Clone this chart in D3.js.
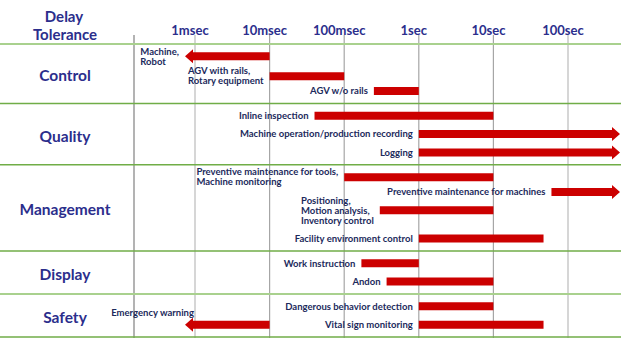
<!DOCTYPE html>
<html>
<head>
<meta charset="utf-8">
<script src="https://cdn.jsdelivr.net/npm/d3@7"></script>
<style>
  html, body { margin: 0; padding: 0; background: #fff; }
  svg { display: block; font-family: Lato, "Open Sans", sans-serif; font-weight: bold; }
</style>
</head>
<body>
<svg id="chart" width="621" height="338"></svg>
<script>
// ---- data -----------------------------------------------------------
const categories = ["Control", "Quality", "Management", "Display", "Safety"];
const tickValues = [0.001, 0.01, 0.1, 1, 10, 100];
const tickLabels = ["1msec", "10msec", "100msec", "1sec", "10sec", "100sec"];

const itemLabels = [
  ["Machine,", "Robot"],
  ["AGV with rails,", "Rotary equipment"],
  ["AGV w/o rails"],
  ["Inline inspection"],
  ["Machine operation/production recording"],
  ["Logging"],
  ["Preventive maintenance for tools,", "Machine monitoring"],
  ["Preventive maintenance for machines"],
  ["Positioning,", "Motion analysis,", "Inventory control"],
  ["Facility environment control"],
  ["Work instruction"],
  ["Andon"],
  ["Dangerous behavior detection"],
  ["Emergency warning"],
  ["Vital sign monitoring"]
];
const itemCategory = [0, 0, 0, 1, 1, 1, 2, 2, 2, 2, 3, 3, 4, 4, 4];
const itemLane     = [0, 1, 2, 0, 1, 2, 0, 1, 2, 3, 0, 1, 0, 1, 1];
// tolerable delay range in seconds (null = open-ended, drawn as an arrow)
const itemMin = [null, 0.01, 0.25, 0.04, 1, 1, 0.1, 60, 0.3, 1, 0.17, 0.37, 1, null, 1];
const itemMax = [0.01, 0.1, 1, 10, null, null, 10, null, 10, 47, 1, 10, 10, 0.01, 47];

// ---- layout constants -----------------------------------------------
const W = 621, H = 338;
const plotLeft = 134, plotRight = W;
const headerY = 44, bottomY = 337, gridTop = 35;

const navy = "#2b2e8c", labelInk = "#1c2a5c", red = "#cc0000";
const green = "#70ad47", paleGreen = "#a9d18e";

const labelSize = 9.5, lineH = 10;
const barH = 8, headH = 14, headL = 8, openReach = 10, gap = 6, lift = 12;
const barGap = 6, textGap = 8.5, groupPad = 12.5;

const svg = d3.select("#chart");

const x = d3.scaleLog().domain([1e-3, 1e2]).range([195, 568]);

// ---- horizontal placement of bars and their labels -------------------
const probe = svg.append("text").attr("font-size", labelSize).attr("visibility", "hidden");
const labelWidth = itemLabels.map(lines =>
  d3.max(lines, s => { probe.text(s); return probe.node().getComputedTextLength(); }));
probe.remove();

const items = itemLabels.map((lab, i) => {
  const x1 = itemMin[i] == null ? x(tickValues[0]) - openReach : x(itemMin[i]);
  const x2 = itemMax[i] == null ? plotRight - 1 : x(itemMax[i]);
  let lx = x1 - gap - labelWidth[i], off = 0;
  if (lx < plotLeft + 2) {
    // no room before the bar: lift the label above it
    lx = x1 + headL + 1 - labelWidth[i];
    off = -lift;
  }
  return {
    lab, x1, x2, lx, lw: labelWidth[i], off,
    cat: itemCategory[i], lane: itemLane[i],
    openLeft: itemMin[i] == null, openRight: itemMax[i] == null
  };
});

// boxes each item occupies, relative to its lane centre
const parts = d => [
  { text: true, x0: d.lx, x1: d.lx + d.lw, off: d.off, half: d.lab.length * lineH / 2 },
  { text: false, x0: d.x1, x1: d.x2, off: 0, half: barH / 2 }
];

// ---- vertical packing of lanes inside each category ------------------
let pos = 0;
const laneCenter = [], groupBounds = [];
categories.forEach((c, ci) => {
  const its = items.filter(d => d.cat === ci);
  const nLanes = d3.max(its, d => d.lane) + 1;
  const centers = [];
  for (let l = 0; l < nLanes; l++) {
    const mine = its.filter(d => d.lane === l).flatMap(parts);
    let cl = l === 0 ? 0 : centers[l - 1] + lineH;
    its.filter(d => d.lane < l).forEach(d => parts(d).forEach(f => mine.forEach(e => {
      if (f.x0 < e.x1 && e.x0 < f.x1) {
        const g = f.text && e.text ? textGap : barGap;
        cl = Math.max(cl, centers[d.lane] + f.off + f.half + g + e.half - e.off);
      }
    })));
    centers[l] = cl;
  }
  const start = pos;
  laneCenter[ci] = centers.map(v => start + groupPad + v);
  pos = start + groupPad + centers[nLanes - 1] + groupPad;
  groupBounds.push([start, pos]);
});
const y = d3.scaleLinear().domain([0, pos]).range([headerY, bottomY]);
items.forEach(d => { d.cy = y(laneCenter[d.cat][d.lane]); });

// ---- grid -----------------------------------------------------------
svg.append("g").selectAll("line").data(tickValues).join("line")
  .attr("x1", d => x(d)).attr("x2", d => x(d))
  .attr("y1", gridTop).attr("y2", H)
  .attr("stroke", (d, i) => (i === 0 || i === tickValues.length - 1) ? "#d6d6d6" : "#a6a6a6")
  .attr("stroke-width", (d, i) => (i === 0 || i === tickValues.length - 1) ? 2 : 1.2);

svg.append("line")
  .attr("x1", plotLeft).attr("x2", plotLeft)
  .attr("y1", gridTop).attr("y2", H)
  .attr("stroke", "#808080").attr("stroke-width", 1.2);

// header rule and category separators
svg.append("line")
  .attr("x1", 0).attr("x2", W).attr("y1", headerY).attr("y2", headerY)
  .attr("stroke", paleGreen).attr("stroke-width", 2);

svg.append("g").selectAll("line").data(groupBounds).join("line")
  .attr("x1", 0).attr("x2", W)
  .attr("y1", d => y(d[1])).attr("y2", d => y(d[1]))
  .attr("stroke", (d, i) => i === categories.length - 2 ? paleGreen : green)
  .attr("stroke-width", (d, i) => i === categories.length - 2 ? 2 : 1.5);

// ---- header ---------------------------------------------------------
const header = svg.append("text")
  .attr("text-anchor", "middle").attr("fill", navy).attr("font-size", 15);
header.append("tspan").attr("x", 64).attr("y", 22).text("Delay");
header.append("tspan").attr("x", 65).attr("y", 40).text("Tolerance");

svg.append("g").selectAll("text").data(tickValues).join("text")
  .attr("x", d => x(d) - 5).attr("y", 35)
  .attr("text-anchor", "middle").attr("fill", navy).attr("font-size", 13)
  .text((d, i) => tickLabels[i]);

// category names
svg.append("g").selectAll("text").data(categories).join("text")
  .attr("x", 65)
  .attr("y", (d, i) => y((groupBounds[i][0] + groupBounds[i][1]) / 2) + 2)
  .attr("dy", "0.35em")
  .attr("text-anchor", "middle").attr("fill", navy).attr("font-size", 15.5)
  .text(d => d);

// ---- bars -----------------------------------------------------------
function barPath(d) {
  const p = d3.path(), h = barH / 2, a = headH / 2;
  const l = d.openLeft ? d.x1 + headL : d.x1;
  const r = d.openRight ? d.x2 - headL : d.x2;
  p.moveTo(l, d.cy - h);
  p.lineTo(r, d.cy - h);
  if (d.openRight) { p.lineTo(r, d.cy - a); p.lineTo(d.x2, d.cy); p.lineTo(r, d.cy + a); }
  p.lineTo(r, d.cy + h);
  p.lineTo(l, d.cy + h);
  if (d.openLeft) { p.lineTo(l, d.cy + a); p.lineTo(d.x1, d.cy); p.lineTo(l, d.cy - a); }
  p.closePath();
  return p.toString();
}

svg.append("g").selectAll("path").data(items).join("path")
  .attr("d", barPath).attr("fill", red);

// ---- bar labels -----------------------------------------------------
svg.append("g").selectAll("text").data(items).join("text")
  .attr("fill", labelInk).attr("font-size", labelSize)
  .each(function (d) {
    const t = d3.select(this), n = d.lab.length;
    d.lab.forEach((s, k) => {
      t.append("tspan")
        .attr("x", d.lx)
        .attr("y", d.cy + d.off + (k - (n - 1) / 2) * lineH)
        .attr("dy", "0.35em")
        .text(s);
    });
  });
</script>
</body>
</html>
